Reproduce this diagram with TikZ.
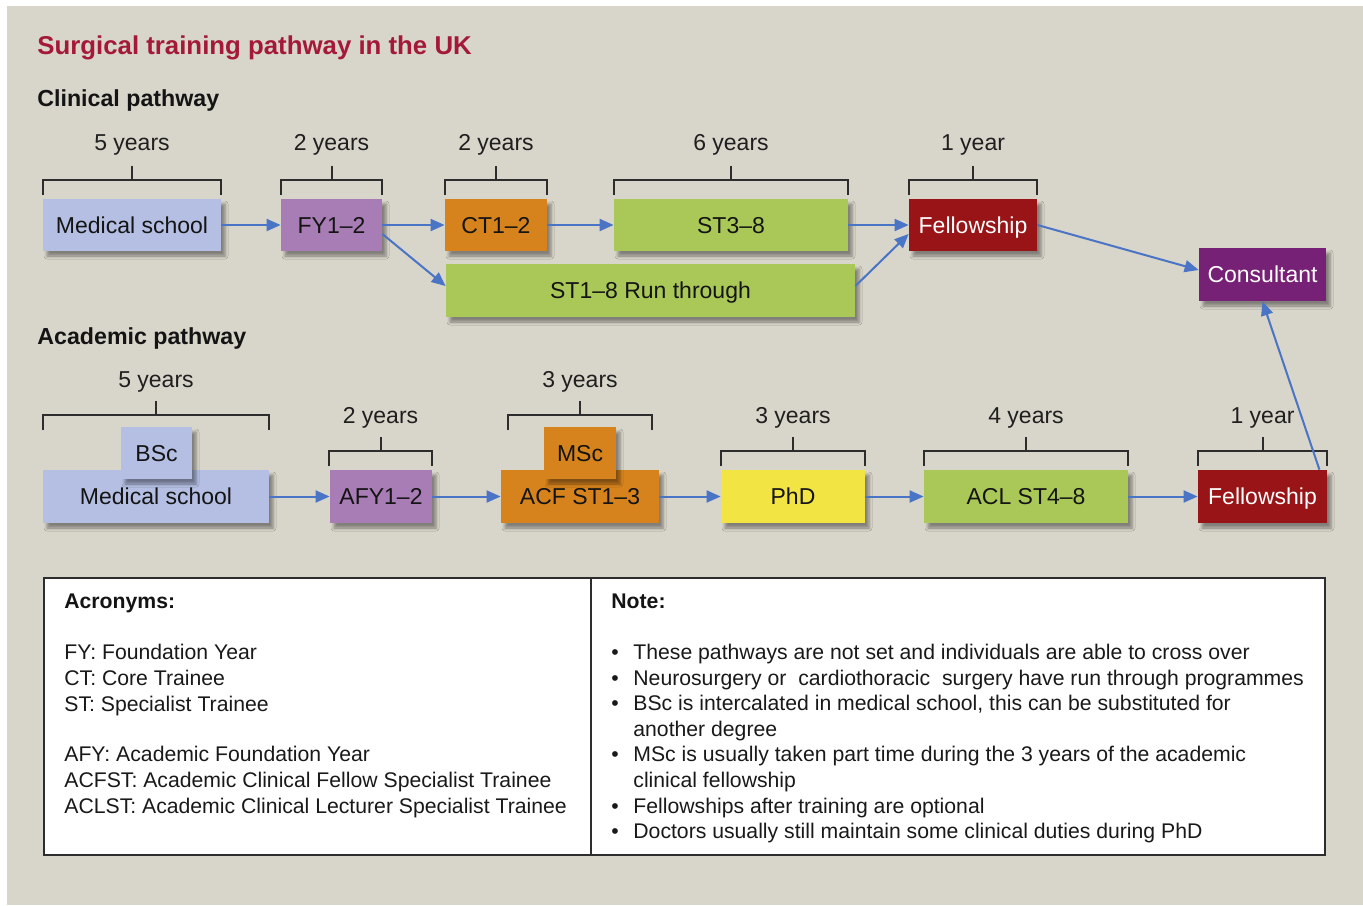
\documentclass[tikz,border=0pt]{standalone}
\usepackage{fontspec}
\setmainfont{Liberation Sans}
\usetikzlibrary{arrows.meta,shadows.blur}
\definecolor{bgc}{RGB}{216,213,202}
\definecolor{msblue}{RGB}{180,191,227}
\definecolor{fypurple}{RGB}{168,125,181}
\definecolor{ctorange}{RGB}{214,131,30}
\definecolor{stgreen}{RGB}{170,200,88}
\definecolor{felred}{RGB}{152,20,22}
\definecolor{conspurple}{RGB}{118,32,118}
\definecolor{phdyellow}{RGB}{242,228,67}
\definecolor{titlered}{RGB}{163,25,55}
\definecolor{arrowblue}{RGB}{74,116,197}
\definecolor{linegray}{RGB}{45,45,45}
\newcommand{\yrbrk}[6]{%
  \draw[brk] (#2,#4+15) -- (#2,#4) -- (#3,#4) -- (#3,#4+15);
  \draw[brk] ({round((#2+#3)/2)},#4) -- ++(0,-14);
  \node[yrs] (#1) at ({(#2+#3)/2},#6) {#5};
}
\begin{document}
\begin{tikzpicture}[x=0.5pt,y=-0.5pt,
  box/.style={rectangle, inner sep=0pt, minimum height=26pt, text=black!92,
    font=\fontsize{11.5}{13}\selectfont, text height=8.3pt, text depth=0pt,
    blur shadow={shadow xshift=2pt, shadow yshift=-2.5pt, shadow blur radius=1.5pt, shadow opacity=40}},
  wbox/.style={box, text=white},
  arr/.style={draw=arrowblue, line width=1pt, -{Triangle[length=7pt,width=6pt]}},
  brk/.style={draw=linegray, line width=1pt, line join=miter},
  yrs/.style={font=\fontsize{11.5}{13}\selectfont, text=black!88, anchor=base, inner sep=0pt},
  txt/.style={font=\fontsize{10.6}{12}\selectfont, text=black!90, anchor=base west, inner sep=0pt},
  hdr/.style={font=\fontsize{10.6}{12}\selectfont\bfseries, text=black!92, anchor=base west, inner sep=0pt},
  sec/.style={font=\fontsize{11.6}{13}\selectfont\bfseries, text=black!92, anchor=base west, inner sep=0pt}
]
\useasboundingbox (0,0) rectangle (1363,905);
\fill[white] (0,0) rectangle (1363,905);
\fill[bgc] (7,6) rectangle (1363,905);

% titles
\node[sec, font=\fontsize{12.9}{15}\selectfont\bfseries, text=titlered] (title) at (37,54) {Surgical training pathway in the UK};
\node[sec] (clin) at (37,106) {Clinical pathway};
\node[sec] (acad) at (37,344) {Academic pathway};

% clinical brackets
\yrbrk{y1}{43}{221}{180}{5 years}{150}
\yrbrk{y2}{281}{382}{180}{2 years}{150}
\yrbrk{y3}{445}{547}{180}{2 years}{150}
\yrbrk{y4}{614}{848}{180}{6 years}{150}
\yrbrk{y5}{909}{1037}{180}{1 year}{150}

% clinical boxes
\node[box, fill=msblue, minimum width=89pt] (ms1) at (132,225) {Medical school};
\node[box, fill=fypurple, minimum width=50.5pt] (fy) at (331.5,225) {FY1–2};
\node[box, fill=ctorange, minimum width=51pt] (ct) at (496,225) {CT1–2};
\node[box, fill=stgreen, minimum width=117pt] (st38) at (731,225) {ST3–8};
\node[wbox, fill=felred, minimum width=64pt] (fel1) at (973,225) {Fellowship};
\node[wbox, fill=conspurple, minimum width=63.5pt, minimum height=26.5pt] (cons) at (1262.5,274.5) {Consultant};
\node[box, fill=stgreen, minimum width=204.5pt, minimum height=26.5pt] (run) at (650.5,290.5) {ST1–8 Run through};

% clinical arrows
\draw[arr] (ms1.east) -- (fy.west);
\draw[arr] (fy.east) -- (ct.west);
\draw[arr] ([yshift=-4.5pt]fy.east) -- ([yshift=2.25pt]run.west);
\draw[arr] (ct.east) -- (st38.west);
\draw[arr] (st38.east) -- (fel1.west);
\draw[arr] ([yshift=2.25pt]run.east) -- ([yshift=-4.5pt]fel1.west);
\draw[arr] (fel1.east) -- ([yshift=2.25pt]cons.west);

% academic brackets
\yrbrk{a1}{43}{269}{415}{5 years}{387}
\yrbrk{a3}{508}{652}{415}{3 years}{387}
\yrbrk{a2}{329}{432}{451}{2 years}{423}
\yrbrk{a4}{721}{865}{451}{3 years}{423}
\yrbrk{a5}{924}{1128}{451}{4 years}{423}
\yrbrk{a6}{1198}{1327}{451}{1 year}{423}

% academic boxes
\node[box, fill=msblue, minimum width=113pt, minimum height=26.5pt] (ms2) at (156,496.5) {Medical school};
\node[box, fill=msblue, minimum width=35.5pt] (bsc) at (156.5,453) {BSc};
\node[box, fill=fypurple, minimum width=51pt, minimum height=26.5pt] (afy) at (381,496.5) {AFY1–2};
\node[box, fill=ctorange, minimum width=79pt, minimum height=26.5pt] (acf) at (580,496.5) {ACF ST1–3};
\node[box, fill=ctorange, minimum width=36pt] (msc) at (580,453) {MSc};
\node[box, fill=phdyellow, minimum width=72pt, minimum height=26.5pt] (phd) at (793,496.5) {PhD};
\node[box, fill=stgreen, minimum width=102pt, minimum height=26.5pt] (acl) at (1026,496.5) {ACL ST4–8};
\node[wbox, fill=felred, minimum width=64.5pt, minimum height=26.5pt] (fel2) at (1262.5,496.5) {Fellowship};

% academic arrows
\draw[arr] (ms2.east) -- (afy.west);
\draw[arr] (afy.east) -- (acf.west);
\draw[arr] (acf.east) -- (phd.west);
\draw[arr] (phd.east) -- (acl.west);
\draw[arr] (acl.east) -- (fel2.west);
\draw[arr] ([xshift=-4pt]fel2.north east) -- (cons.south);

% table
\node[draw=linegray, line width=1pt, fill=white, rectangle, inner sep=0pt, minimum width=640.5pt, minimum height=138.5pt] (tbl) at (684.5,716.5) {};
\draw[draw=linegray, line width=1pt] (591,578) -- (591,855);

\node[hdr] (acr) at (64,608) {Acronyms:};
\node[txt] (c1) at (64,659) {FY: Foundation Year};
\node[txt] (c2) at (64,685) {CT: Core Trainee};
\node[txt] (c3) at (64,711) {ST: Specialist Trainee};
\node[txt] (c4) at (64,761) {AFY: Academic Foundation Year};
\node[txt] (c5) at (64,787) {ACFST: Academic Clinical Fellow Specialist Trainee};
\node[txt] (c6) at (64,813) {ACLST: Academic Clinical Lecturer Specialist Trainee};

\node[hdr] (note) at (611,608) {Note:};
\node[txt] (b1) at (611,659) {•};
\node[txt] (n1) at (633,659) {These pathways are not set and individuals are able to cross over};
\node[txt] (b2) at (611,685) {•};
\node[txt] (n2) at (633,685) {Neurosurgery or \ cardiothoracic \ surgery have run through programmes};
\node[txt] (b3) at (611,710) {•};
\node[txt] (n3) at (633,710) {BSc is intercalated in medical school, this can be substituted for};
\node[txt] (n4) at (633,736) {another degree};
\node[txt] (b5) at (611,761) {•};
\node[txt] (n5) at (633,761) {MSc is usually taken part time during the 3 years of the academic};
\node[txt] (n6) at (633,787) {clinical fellowship};
\node[txt] (b7) at (611,813) {•};
\node[txt] (n7) at (633,813) {Fellowships after training are optional};
\node[txt] (b8) at (611,838) {•};
\node[txt] (n8) at (633,838) {Doctors usually still maintain some clinical duties during PhD};
\end{tikzpicture}
\end{document}
